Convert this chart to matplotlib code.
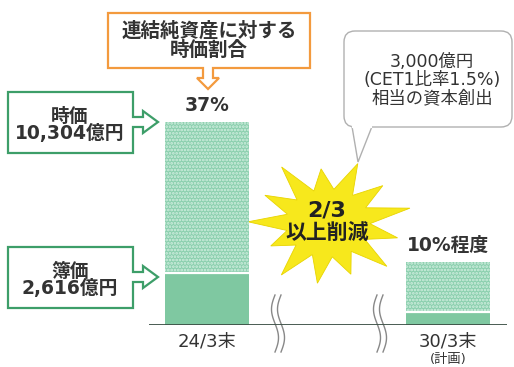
import numpy as np
import matplotlib as mpl
mpl.use('Agg')
import matplotlib.pyplot as plt
from matplotlib.patches import Polygon, FancyBboxPatch

plt.rcParams['font.family'] = ['DejaVu Sans', 'Noto Sans CJK JP']
plt.rcParams['hatch.linewidth'] = 1.3

# data
periods = ['24/3末', '30/3末']
market_value = [10304, 3200]   # 時価 (億円), 30/3
book_value = [2616, 650]       # 簿価 (億円), 30/3
ratio_labels = ['37%', '10%程度']

W, H = 514, 367
fig = plt.figure(figsize=(W / 100, H / 100), dpi=100)

# pixel-coordinate overlay axes for the annotations
ax = fig.add_axes([0, 0, 1, 1])
ax.set_xlim(0, W)
ax.set_ylim(H, 0)
ax.axis('off')

#######################################
# Bars: axes placed so value 0 sits on the baseline (y=325 px)
#######################################
base_px, top_px = 325, 100
px_per_val = 203 / market_value[0]
ymax = (base_px - top_px) / px_per_val
x_left, x_right = 149, 507
# category 0 -> 207px, category 1 -> 448px
unit = 448 - 207
xl = (x_left - 207) / unit
xr = (x_right - 207) / unit
bax = fig.add_axes([x_left / W, (H - base_px) / H, (x_right - x_left) / W,
                    (base_px - top_px) / H])
bax.set_xlim(xl, xr)
bax.set_ylim(0, ymax)
bax.axis('off')
bax.patch.set_alpha(0)

xs = np.arange(len(periods))
bw = 84 / unit
bax.bar(xs, book_value, width=bw, color='#7fc8a1', linewidth=0)
bax.bar(xs, np.array(market_value) - np.array(book_value), bottom=book_value,
        width=bw, color='#8bcfae', edgecolor='#d2efe0', hatch='.....',
        linewidth=0)
# white separator between book and market part
for x, b in zip(xs, book_value):
    bax.plot([x - bw / 2, x + bw / 2], [b, b], color='white', lw=1.6)
bax.axhline(0, color='#3b4f45', lw=1.3)

for x, m, lab in zip(xs, market_value, ratio_labels):
    bax.text(x, m + 7 / px_per_val, lab, ha='center', va='bottom',
             fontsize=13.5, fontweight='bold', color='#333333')

ax.text(207, 342, periods[0], ha='center', va='center', fontsize=13,
        color='#333333')
ax.text(448, 342, periods[1], ha='center', va='center', fontsize=13,
        color='#333333')
ax.text(448, 359, '(計画)', ha='center', va='center', fontsize=9.5,
        color='#333333')

# axis break marks
t = np.linspace(0, 1, 60)
for cx in [278, 380]:
    for off in [-3, 3]:
        yy = 295 + 57 * t
        xx = cx + off + 3.5 * np.sin(2 * np.pi * t + np.pi)
        ax.plot(xx, yy, color='#888888', lw=1.0)

#######################################
# Callout boxes
#######################################
green = '#3d9e69'

def box_with_arrow(top, bot, ay):
    pts = [(8, top), (133, top), (133, ay - 5), (143, ay - 5), (143, ay - 11),
           (158, ay), (143, ay + 11), (143, ay + 5), (133, ay + 5), (133, bot),
           (8, bot)]
    ax.add_patch(Polygon(pts, closed=True, fc='white', ec=green, lw=1.6,
                         joinstyle='miter'))

box_with_arrow(92, 153, 122)
ax.text(70, 125, '時価\n10,304億円', ha='center', va='center', fontsize=13.5,
        fontweight='bold', color='#333333', linespacing=0.9)
box_with_arrow(247, 308, 277)
ax.text(70, 280, '簿価\n2,616億円', ha='center', va='center', fontsize=13.5,
        fontweight='bold', color='#333333', linespacing=0.9)

orange = '#f39a3e'
opts = [(108, 13), (310, 13), (310, 68), (213, 68), (213, 78), (219, 78),
        (208, 89), (197, 78), (203, 78), (203, 68), (108, 68)]
ax.add_patch(Polygon(opts, closed=True, fc='white', ec=orange, lw=1.6,
                     joinstyle='miter'))
ax.text(209, 41, '連結純資産に対する\n時価割合', ha='center', va='center',
        fontsize=14, fontweight='bold', color='#333333', linespacing=1.0)

# speech bubble
ax.add_patch(FancyBboxPatch((344, 31), 168, 96,
                            boxstyle='round,pad=0,rounding_size=11',
                            fc='white', ec='#b0b0b0', lw=1.0, zorder=3))
ax.add_patch(Polygon([(352, 126.5), (358, 162), (372, 126.5)], closed=False,
                     fc='white', ec='#b0b0b0', lw=1.0, zorder=3))
ax.plot([353, 371], [127, 127], color='white', lw=1.6, zorder=4)
ax.text(432, 80, '3,000億円\n(CET1比率1.5%)\n相当の資本創出', ha='center',
        va='center', fontsize=12.5, color='#333333', linespacing=1.0,
        zorder=5)

#######################################
# Star burst
#######################################
cx, cy = 328, 223
n = 13
outer = [1.0, 0.85, 1.05, 0.9, 1.0, 0.8, 1.0, 0.95, 0.85, 1.0, 0.9, 1.05, 0.9]
ang0 = np.arctan2(-(162 - cy) / 62, (358 - cx) / 76)
pts = []
for i in range(n):
    a = ang0 + 2 * np.pi * i / n
    pts.append((cx + 80 * outer[i] * np.cos(a), cy - 64 * outer[i] * np.sin(a)))
    a2 = a + np.pi / n
    pts.append((cx + 42 * np.cos(a2), cy - 34 * np.sin(a2)))
ax.add_patch(Polygon(pts, closed=True, fc='#f7e81c', ec='#e8d400', lw=0.6,
                     zorder=2))
ax.text(327, 210, '2/3', ha='center', va='center', fontsize=16,
        fontweight='bold', color='#222222', zorder=3)
ax.text(327, 233, '以上削減', ha='center', va='center', fontsize=15,
        fontweight='bold', color='#222222', zorder=3)

fig.savefig('out.png', dpi=100)
